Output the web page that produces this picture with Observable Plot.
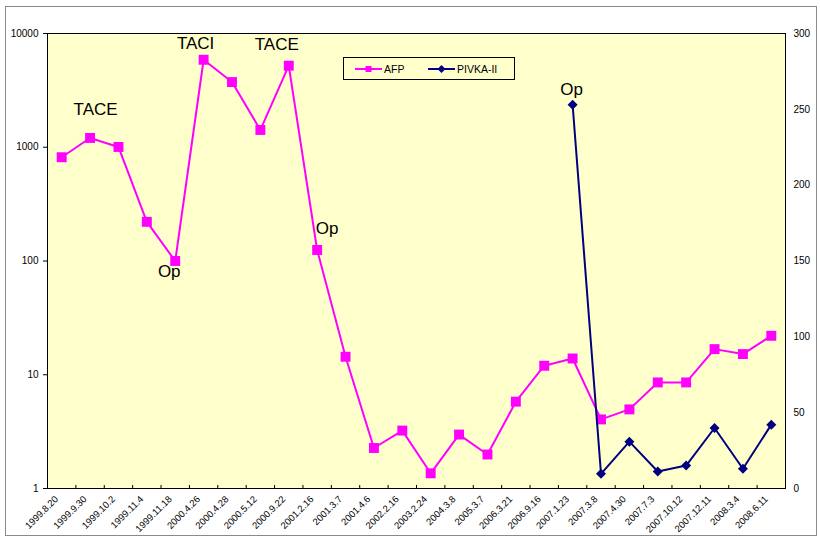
<!DOCTYPE html>
<html><head><meta charset="utf-8">
<script src="https://cdn.jsdelivr.net/npm/d3@7"></script>
<script src="https://cdn.jsdelivr.net/npm/@observablehq/plot@0.6"></script>
<style>
body{margin:0;background:#fff;font-family:"Liberation Sans",Arial,sans-serif;}
#wrap{position:relative;width:820px;height:538px;overflow:hidden;}
#wrap svg.plot{position:absolute;left:0;top:0;}
#border{position:absolute;left:5px;top:6px;width:810px;height:528px;border:1px solid #8a8a8a;}
#legend{position:absolute;left:343px;top:57px;width:170px;height:21px;border:1px solid #000;background:#FFFFCC;z-index:5;}
#legend svg{position:absolute;left:0;top:0;}
</style></head><body>
<div id="wrap"><div id="border"></div></div>
<script>
const dates = ["1999.8.20","1999.9.30","1999.10.2","1999.11.4","1999.11.18","2000.4.26","2000.4.28","2000.5.12","2000.9.22","2001.2.16","2001.3.7","2001.4.6","2002.2.16","2003.2.24","2004.3.8","2005.3.7","2006.3.21","2006.9.16","2007.1.23","2007.3.8","2007.4.30","2007.7.3","2007.10.12","2007.12.11","2008.3.4","2008.6.11"];
const afp = [817,1207,1006,221,100,5877,3740,1419,5210,125,14.4,2.27,3.23,1.36,2.98,1.99,5.8,12.0,13.9,4.05,4.96,8.56,8.56,16.8,15.2,22.0];
const pivka = [null,null,null,null,null,null,null,null,null,null,null,null,null,null,null,null,null,null,253,9.7,30.9,11.2,15.1,39.9,13,42.1];
const leftTicks = [1,10,100,1000,10000];
const rightTicks = [0,50,100,150,200,250,300];
const seriesNames = ["AFP","PIVKA-II"];
const noteTexts = ["TACE","TACI","TACE","Op","Op","Op"];
const noteDates = ["1999.9.30","2000.4.26","2000.9.22","1999.11.18","2001.2.16","2007.1.23"];

const W = 820, H = 538;
const ML = 47, MR = 35, MT = 33, MB = 50;
const step = (W - ML - MR) / dates.length;
const FONT = '"Liberation Sans", Arial, sans-serif';
const MAG = "#FF00FF", NAVY = "#000080";

const afpRows = dates.map((d, i) => ({date: d, value: afp[i]}));
const pivkaRows = dates.map((d, i) => ({date: d, value: pivka[i]})).filter(r => r.value != null);

function note(i, series, dx, dy) {
  const idx = dates.indexOf(noteDates[i]);
  return Plot.text([i], {x: () => noteDates[i], y: () => series[idx], text: () => noteTexts[i],
    dx, dy, fontSize: 17, fill: "#000", fontFamily: FONT});
}

const common = {width: W, height: H, marginLeft: ML, marginRight: MR, marginTop: MT, marginBottom: MB};

const p1 = Plot.plot({
  ...common,
  style: {background: "transparent", fontFamily: FONT, color: "#000"},
  x: {type: "point", domain: dates, padding: 0.5, round: false},
  y: {type: "log", domain: [1, 10000]},
  marks: [
    Plot.frame({fill: "#FFFFCC", stroke: "none"}),
    Plot.ruleX(dates.slice(1), {x: d => d, y1: 1, y2: 1, dx: -step / 2, insetTop: -3, stroke: "#000"}),
    Plot.line(afpRows, {x: "date", y: "value", stroke: MAG, strokeWidth: 2}),
    Plot.dot(afpRows, {x: "date", y: "value", symbol: "square", r: 5.6, fill: MAG, stroke: "none"}),
    note(0, afp, 5.5, -28),
    note(1, afp, -8, -16),
    note(2, afp, -12, -21),
    note(3, afp, -6, 11),
    note(4, afp, 10, -21),
    Plot.axisY({ticks: leftTicks, tickFormat: d => String(d), tickSize: 4, tickPadding: 5, fontSize: 10, label: null}),
    Plot.axisX({tickRotate: -45, tickSize: 0, tickPadding: 9, fontSize: 9.5, label: null, dx: -5}),
    Plot.frame({stroke: "#000", strokeWidth: 1})
  ]
});
p1.classList.add("plot");

const p2 = Plot.plot({
  ...common,
  style: {background: "transparent", fontFamily: FONT, color: "#000"},
  x: {type: "point", domain: dates, padding: 0.5, round: false, axis: null},
  y: {type: "linear", domain: [0, 300], axis: null},
  marks: [
    Plot.ruleY(rightTicks, {y: d => d, x1: dates[dates.length - 1], x2: dates[dates.length - 1], dx: step / 2, insetLeft: -4, stroke: "#000"}),
    Plot.line(pivkaRows, {x: "date", y: "value", stroke: NAVY, strokeWidth: 2}),
    Plot.dot(pivkaRows, {x: "date", y: "value", symbol: "diamond2", r: 4.5, fill: NAVY, stroke: "none"}),
    note(5, pivka, -1, -15.5),
    Plot.axisY({anchor: "right", ticks: rightTicks, tickSize: 0, tickPadding: 8, fontSize: 10, label: null})
  ]
});
p2.classList.add("plot");

const wrap = document.getElementById("wrap");
wrap.appendChild(p1);
wrap.appendChild(p2);

// legend
const leg = document.createElement("div");
leg.id = "legend";
const ls = d3.create("svg").attr("width", 170).attr("height", 21);
const items = [{name: seriesNames[0], color: MAG, sym: d3.symbolSquare, size: 36, x0: 11, tx: 40},
               {name: seriesNames[1], color: NAVY, sym: d3.symbolDiamond2, size: 40, x0: 84, tx: 113}];
for (const it of items) {
  ls.append("line").attr("x1", it.x0).attr("x2", it.x0 + 27).attr("y1", 11).attr("y2", 11)
    .attr("stroke", it.color).attr("stroke-width", 2);
  ls.append("path").attr("d", d3.symbol(it.sym, it.size)()).attr("transform", `translate(${it.x0 + 13.5},11)`).attr("fill", it.color);
  ls.append("text").attr("x", it.tx).attr("y", 11).attr("dy", "0.35em").attr("font-size", 10.5)
    .attr("font-family", FONT).attr("fill", "#000").text(it.name);
}
leg.appendChild(ls.node());
wrap.appendChild(leg);
</script>
</body></html>
